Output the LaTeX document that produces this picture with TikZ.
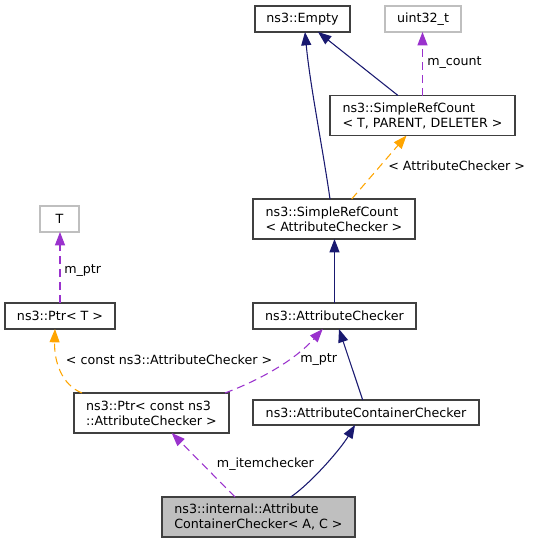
\documentclass[tikz,border=0pt]{standalone}
\usepackage{fontspec}
\setmainfont{DejaVu Sans}
\usetikzlibrary{arrows.meta,calc}
\definecolor{navy}{HTML}{191970}
\definecolor{orch}{HTML}{9A32CD}
\definecolor{orng}{HTML}{FFA500}
\definecolor{lgray}{HTML}{BFBFBF}
\definecolor{bord}{HTML}{404040}
\begin{document}
\begin{tikzpicture}[x=0.75pt,y=-0.75pt,
  every node/.style={font=\fontsize{9.5}{11.25}\selectfont},
  cls/.style={draw=bord,line width=0.9pt,inner sep=0pt,outer sep=0pt,align=left,fill=white},
  ext/.style={draw=lgray,line width=0.9pt,inner sep=0pt,outer sep=0pt,align=left},
  tip/.style={-{Triangle[length=10pt,width=7.5pt]}},
  inh/.style={draw=navy,line width=0.8pt,tip,color=navy},
  use/.style={draw=orch,line width=0.8pt,dash pattern=on 6pt off 3.75pt,tip,color=orch},
  tmpl/.style={draw=orng,line width=0.8pt,dash pattern=on 6pt off 3.75pt,tip,color=orng},
  lbl/.style={anchor=west,inner sep=0pt,text=black}]
\useasboundingbox (0,0) rectangle (533,543);
\node[cls,minimum width=71.25pt,minimum height=19.5pt] (empty) at (302.5,19) {ns3::Empty};
\node[ext,minimum width=57pt,minimum height=19.5pt] (uint) at (423,19) {uint32\_t};
\node[cls,minimum width=138.75pt,minimum height=30pt] (srctpd) at (422.5,115.5) {ns3::SimpleRefCount\\< T, PARENT, DELETER >};
\node[cls,minimum width=121.5pt,minimum height=30pt] (srcac) at (334,219) {ns3::SimpleRefCount\\< AttributeChecker >};
\node[ext,minimum width=29.25pt,minimum height=19.5pt] (T) at (59.5,219) {T};
\node[cls,minimum width=82.5pt,minimum height=19.5pt] (ptrt) at (60,316) {ns3::Ptr< T >};
\node[cls,minimum width=122.25pt,minimum height=19.5pt] (ac) at (334.5,316) {ns3::AttributeChecker};
\node[cls,minimum width=116.25pt,minimum height=30pt] (ptrc) at (151.5,413) {ns3::Ptr< const ns3\\::AttributeChecker >};
\node[cls,minimum width=169.5pt,minimum height=18.75pt] (acc) at (366,412.5) {ns3::AttributeContainerChecker};
\node[cls,fill=lgray,minimum width=144.75pt,minimum height=30pt] (int) at (258.5,517) {ns3::internal::Attribute\\ContainerChecker< A, C >};
% edges
\draw[inh] ($(srcac.north)+(-4,0)$) .. controls (323,150) and (310,85) .. ($(empty.south)+(2.5,0)$);
\draw[inh] ($(srctpd.north)+(-24.5,0)$) -- ($(empty.south)+(15.5,0)$);
\draw[use] (srctpd.north) -- (srctpd.north |- uint.south);
\node[lbl] (lcount) at (427,62.5) {m\_count};
\draw[tmpl] ($(srcac.north)+(17.7,0)$) -- ($(srctpd.south)+(-16,0)$);
\node[lbl] (lsrc) at (388,166) {< AttributeChecker >};
\draw[inh] (ac.north) -- (ac.north |- srcac.south);
\draw[use] (ptrt.north) -- (ptrt.north |- T.south);
\node[lbl] (lmptr1) at (64,271) {m\_ptr};
\draw[tmpl] ($(ptrc.north)+(-69.5,0)$) .. controls (62,385) and (54,362) .. ($(ptrt.south)+(-5,0)$);
\node[lbl] (lconst) at (65.7,360) {< const ns3::AttributeChecker >};
\draw[use] ($(ptrc.north)+(73.5,0)$) .. controls (260,380) and (295,360) .. ($(ac.south)+(-11.8,0)$);
\node[lbl] (lmptr2) at (300,360) {m\_ptr};
\draw[inh] ($(acc.north)+(-3.3,0)$) -- ($(ac.south)+(4.5,0)$);
\draw[inh] ($(int.north)+(32.2,0)$) .. controls (310,484) and (340,450) .. ($(acc.south)+(-11,0)$);
\draw[use] ($(int.north)+(-23.5,0)$) -- ($(ptrc.south)+(20.2,0)$);
\node[lbl] (litem) at (216.7,464) {m\_itemchecker};
\end{tikzpicture}
\end{document}
